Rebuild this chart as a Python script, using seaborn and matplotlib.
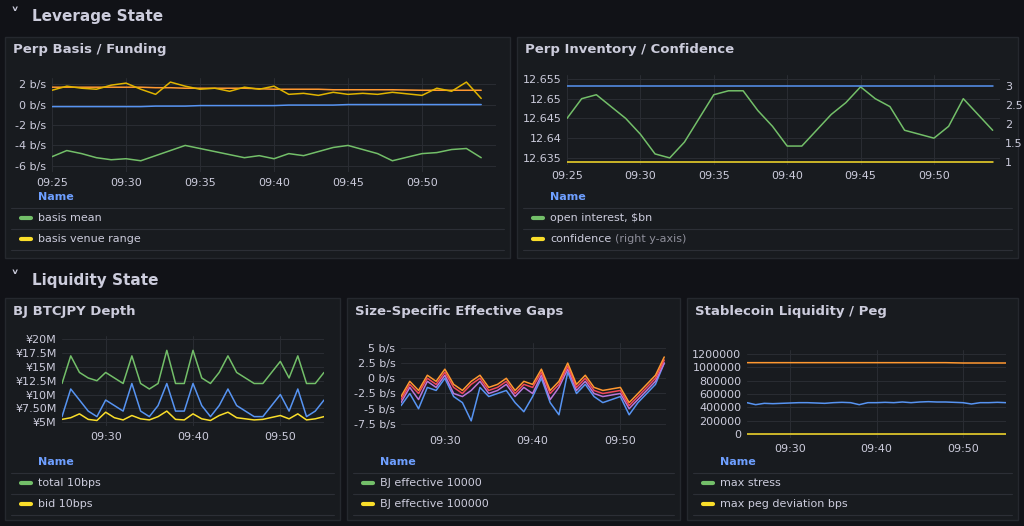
import numpy as np
import pandas as pd
import seaborn as sns
import matplotlib.pyplot as plt
from matplotlib.patches import FancyBboxPatch
from matplotlib.lines import Line2D

nan = np.nan
t1 = list(range(25, 55))
t3 = list(range(25, 56))

# Perp Basis / Funding
basis_mean = [-5.1, -4.5, -4.8, -5.2, -5.4, -5.3, -5.5, -5.0, -4.5, -4.0, -4.3, -4.6, -4.9, -5.2, -5.0,
              -5.3, -4.8, -5.0, -4.6, -4.2, -4.0, -4.4, -4.8, -5.5, nan, -4.8, -4.7, -4.4, -4.3, -5.2]
basis_range = [1.4, 1.8, 1.6, 1.5, 1.9, 2.1, 1.5, 1.0, 2.2, 1.8, 1.5, 1.6, 1.3, 1.7, 1.5,
               1.8, 1.0, 1.1, 0.9, 1.2, 1.0, 1.1, 1.0, 1.2, nan, 0.9, 1.6, 1.3, 2.2, 0.6]
funding = [1.7, 1.7, 1.7, 1.7, 1.7, 1.7, 1.7, 1.65, 1.65, 1.6, 1.6, 1.6, 1.6, 1.6, 1.55,
           1.5, 1.5, 1.5, 1.5, 1.45, 1.45, 1.45, 1.45, 1.45, nan, 1.4, 1.4, 1.4, 1.4, 1.4]
basis_floor = [-0.2, -0.2, -0.2, -0.2, -0.2, -0.2, -0.2, -0.15, -0.15, -0.15, -0.1, -0.1, -0.1, -0.1, -0.1,
               -0.1, -0.05, -0.05, -0.05, -0.05, 0.0, 0.0, 0.0, 0.0, nan, 0.0, 0.0, 0.0, 0.0, 0.0]

# Perp Inventory / Confidence
open_interest = [12.645, 12.650, 12.651, 12.648, 12.645, 12.641, 12.636, 12.635, 12.639, 12.645,
                 12.651, 12.652, 12.652, 12.647, 12.643, 12.638, 12.638, 12.642, 12.646, 12.649,
                 12.653, 12.650, 12.648, 12.642, nan, 12.640, 12.643, 12.650, 12.646, 12.642]
confidence = [1.0] * 24 + [nan] + [1.0] * 5
oi_cap = [3.0] * 24 + [nan] + [3.0] * 5

# BJ BTCJPY Depth (millions of yen)
total_10bps = [12, 17, 14, 13, 12.5, 14, 13, 12, 17, 12, 11, 12, 18, 12, 12, 18,
               13, 12, 14, 17, 14, 13, 12, 12, nan, 16, 13, 17, 12, 12, 14]
bid_10bps = [6, 11, 9, 7, 6, 9, 8, 7, 12, 7, 6, 8, 12, 7, 7, 12,
             8, 6, 8, 11, 8, 7, 6, 6, nan, 10, 7, 11, 6, 7, 9]
ask_10bps = [5.5, 5.8, 6.5, 5.5, 5.3, 6.8, 5.8, 5.4, 6.2, 5.6, 5.4, 6.0, 7.0, 5.5, 5.4, 6.5,
             5.6, 5.3, 6.2, 6.8, 5.8, 5.6, 5.4, 5.5, nan, 6.2, 5.6, 6.5, 5.4, 5.6, 6.0]

# Size-Specific Effective Gaps
gap_a = [-3.0, -0.5, -2.0, 0.5, -0.5, 1.5, -1.0, -2.0, -0.5, 0.5, -1.5, -1.0, 0.0, -2.0, -0.5,
         -1.0, 1.5, -2.0, -0.5, 2.5, -1.0, 0.5, -1.5, -2.0, nan, -1.5, -4.0, -2.5, -1.0, 0.5, 3.5]
gap_b = [-3.5, -1.0, -2.5, 0.0, -1.0, 1.0, -1.5, -2.5, -1.0, 0.0, -2.0, -1.5, -0.5, -2.5, -1.0,
         -1.5, 1.0, -2.5, -1.0, 2.0, -1.5, 0.0, -2.0, -2.5, nan, -2.0, -4.5, -3.0, -1.5, 0.0, 3.0]
gap_c = [-4.0, -1.5, -3.5, -0.5, -1.5, 0.5, -2.5, -3.0, -2.0, -0.5, -2.5, -2.0, -1.0, -3.0, -1.5,
         -2.5, 0.5, -3.5, -1.5, 1.5, -2.0, -0.5, -2.5, -3.0, nan, -2.5, -5.0, -3.5, -2.0, -0.5, 2.5]
gap_d = [-4.5, -2.5, -5.0, -1.5, -2.0, 0.0, -3.0, -4.0, -7.0, -1.5, -3.0, -2.5, -2.0, -4.0, -5.5,
         -3.0, 0.0, -4.0, -6.0, 1.0, -2.5, -1.0, -3.0, -4.0, nan, -3.0, -6.0, -4.0, -2.5, -1.0, 2.5]

# Stablecoin Liquidity / Peg
peg_total = [1070000] * 24 + [nan] + [1065000] * 6
peg_stress = [470000, 440000, 460000, 455000, 460000, 465000, 470000, 470000, 465000, 460000,
              470000, 475000, 470000, 440000, 470000, 470000, 475000, 470000, 480000, 470000,
              480000, 485000, 480000, 480000, nan, 470000, 450000, 470000, 470000, 475000, 470000]
peg_dev = [0] * 24 + [nan] + [0] * 6

BG = "#111217"
PANEL = "#181b1f"
BORDER = "#25282e"
TXT = "#ccccdc"
GRID = "#2a2d33"
GREEN, YELLOW, BLUE, ORANGE, RED, PURPLE = "#73BF69", "#FADE2A", "#5794F2", "#FF9830", "#F2495C", "#B877D9"

sns.set_theme(style="dark")
plt.rcParams["font.family"] = ["DejaVu Sans"]
W, H = 1024, 526
fig = plt.figure(figsize=(W / 100, H / 100), dpi=100, facecolor=BG)


def fx(x):
    return x / W


def fy(y):
    return 1 - y / H


def panel(x0, y0, x1, y1, title):
    fig.patches.append(FancyBboxPatch((fx(x0), fy(y1)), fx(x1 - x0), (y1 - y0) / H,
                                      boxstyle="square,pad=0", transform=fig.transFigure,
                                      facecolor=PANEL, edgecolor=BORDER, lw=1, zorder=-10))
    fig.text(fx(x0 + 8), fy(y0 + 13), title, color=TXT, fontsize=9.5, fontweight="bold", va="center")


def legend(x0, x1, y_name, items):
    fig.text(fx(x0 + 33), fy(y_name), "Name", color="#6E9FFF", fontsize=8, va="center", fontweight="bold")
    for i, (label, col, extra) in enumerate(items):
        ysep = y_name + 11 + 21 * i
        fig.add_artist(Line2D([fx(x0 + 6), fx(x1 - 6)], [fy(ysep), fy(ysep)], color="#2c2f36", lw=0.8))
        yc = ysep + 10
        fig.add_artist(Line2D([fx(x0 + 16), fx(x0 + 26)], [fy(yc), fy(yc)], color=col, lw=3,
                              solid_capstyle="round"))
        fig.text(fx(x0 + 33), fy(yc), label, color=TXT, fontsize=8, va="center")
        if extra:
            fig.text(fx(x0 + 37 + 6.1 * len(label)), fy(yc), extra, color="#8e8e9a", fontsize=8, va="center")
    ysep = y_name + 11 + 21 * len(items)
    fig.add_artist(Line2D([fx(x0 + 6), fx(x1 - 6)], [fy(ysep), fy(ysep)], color="#2c2f36", lw=0.8))


def mkax(x0, y0, x1, y1):
    ax = fig.add_axes([fx(x0), fy(y1), fx(x1 - x0), (y1 - y0) / H])
    ax.set_facecolor(PANEL)
    ax.patch.set_alpha(0)
    for s in ax.spines.values():
        s.set_visible(False)
    ax.grid(True, color=GRID, lw=0.7)
    ax.tick_params(colors=TXT, labelsize=8, length=0, pad=4)
    return ax


def xfmt(ax, ticks):
    ax.set_xticks(ticks)
    ax.set_xticklabels([f"09:{t:02d}" for t in ticks])


def draw(ax, t, ys, cols):
    for y, c in zip(ys, cols):
        sns.lineplot(x=t, y=y, ax=ax, color=c, lw=1.1, legend=False)
    ax.set_xlabel("")
    ax.set_ylabel("")


# section headers
fig.text(fx(15), fy(16), "˅", color=TXT, fontsize=12, va="center", ha="center", fontweight="bold")
fig.text(fx(32), fy(17), "Leverage State", color=TXT, fontsize=11, va="center", fontweight="bold")
fig.text(fx(15), fy(279), "˅", color=TXT, fontsize=12, va="center", ha="center", fontweight="bold")
fig.text(fx(32), fy(280), "Liquidity State", color=TXT, fontsize=11, va="center", fontweight="bold")

# Panel 1
panel(5, 37, 510, 258, "Perp Basis / Funding")
ax = mkax(52, 78, 496, 172)
draw(ax, t1, [basis_mean, funding, basis_range, basis_floor], [GREEN, ORANGE, "#E0B400", BLUE])
ax.set_xlim(25, 55)
ax.set_ylim(-6.6, 2.6)
ax.set_yticks([-6, -4, -2, 0, 2])
ax.set_yticklabels([f"{v} b/s" for v in [-6, -4, -2, 0, 2]])
xfmt(ax, [25, 30, 35, 40, 45, 50])
legend(5, 510, 197, [("basis mean", GREEN, None), ("basis venue range", YELLOW, None)])

# Panel 2
panel(517, 37, 1018, 258, "Perp Inventory / Confidence")
ax = mkax(567, 75, 1000, 165)
draw(ax, t1, [open_interest], [GREEN])
ax.set_xlim(25, 54.5)
ax.set_ylim(12.6332, 12.656)
ax.set_yticks([12.635, 12.64, 12.645, 12.65, 12.655])
ax.set_yticklabels(["12.635", "12.64", "12.645", "12.65", "12.655"])
xfmt(ax, [25, 30, 35, 40, 45, 50])
ax2 = ax.twinx()
sns.lineplot(x=t1, y=oi_cap, ax=ax2, color=BLUE, lw=1.1)
sns.lineplot(x=t1, y=confidence, ax=ax2, color=YELLOW, lw=1.1)
ax2.set_ylim(0.92, 3.29)
ax2.set_yticks([1, 1.5, 2, 2.5, 3])
ax2.set_yticklabels(["1", "1.5", "2", "2.5", "3"])
ax2.tick_params(colors=TXT, labelsize=8, length=0)
ax2.set_ylabel("")
ax2.grid(False)
for s in ax2.spines.values():
    s.set_visible(False)
legend(517, 1018, 197, [("open interest, $bn", GREEN, None), ("confidence", YELLOW, "(right y-axis)")])

# Panel 3
panel(5, 298, 340, 520, "BJ BTCJPY Depth")
ax = mkax(62, 336, 324, 426)
draw(ax, t3, [total_10bps, bid_10bps, ask_10bps], [GREEN, BLUE, YELLOW])
ax.set_xlim(25, 55)
ax.set_ylim(4.3, 20.6)
ax.set_yticks([5, 7.5, 10, 12.5, 15, 17.5, 20])
ax.set_yticklabels(["¥5M", "¥7.50M", "¥10M", "¥12.5M", "¥15M", "¥17.5M", "¥20M"])
xfmt(ax, [30, 40, 50])
legend(5, 340, 462, [("total 10bps", GREEN, None), ("bid 10bps", YELLOW, None)])

# Panel 4
panel(347, 298, 680, 520, "Size-Specific Effective Gaps")
ax = mkax(401, 343, 666, 430)
draw(ax, t3, [gap_d, gap_c, gap_b, gap_a], [BLUE, PURPLE, RED, ORANGE])
ax.set_xlim(25, 55.2)
ax.set_ylim(-8.5, 5.8)
ax.set_yticks([-7.5, -5, -2.5, 0, 2.5, 5])
ax.set_yticklabels(["-7.5 b/s", "-5 b/s", "-2.5 b/s", "0 b/s", "2.5 b/s", "5 b/s"])
xfmt(ax, [30, 40, 50])
legend(347, 680, 462, [("BJ effective 10000", GREEN, None), ("BJ effective 100000", YELLOW, None)])

# Panel 5
panel(687, 298, 1018, 520, "Stablecoin Liquidity / Peg")
ax = mkax(747, 350, 1006, 438)
draw(ax, t3, [peg_total, peg_stress, peg_dev], [ORANGE, BLUE, YELLOW])
ax.set_xlim(25, 55)
ax.set_ylim(-60000, 1260000)
ax.set_yticks([0, 200000, 400000, 600000, 800000, 1000000, 1200000])
ax.set_yticklabels(["0", "200000", "400000", "600000", "800000", "1000000", "1200000"])
xfmt(ax, [30, 40, 50])
legend(687, 1018, 462, [("max stress", GREEN, None), ("max peg deviation bps", YELLOW, None)])

fig.savefig("out.png", dpi=100, facecolor=BG)
